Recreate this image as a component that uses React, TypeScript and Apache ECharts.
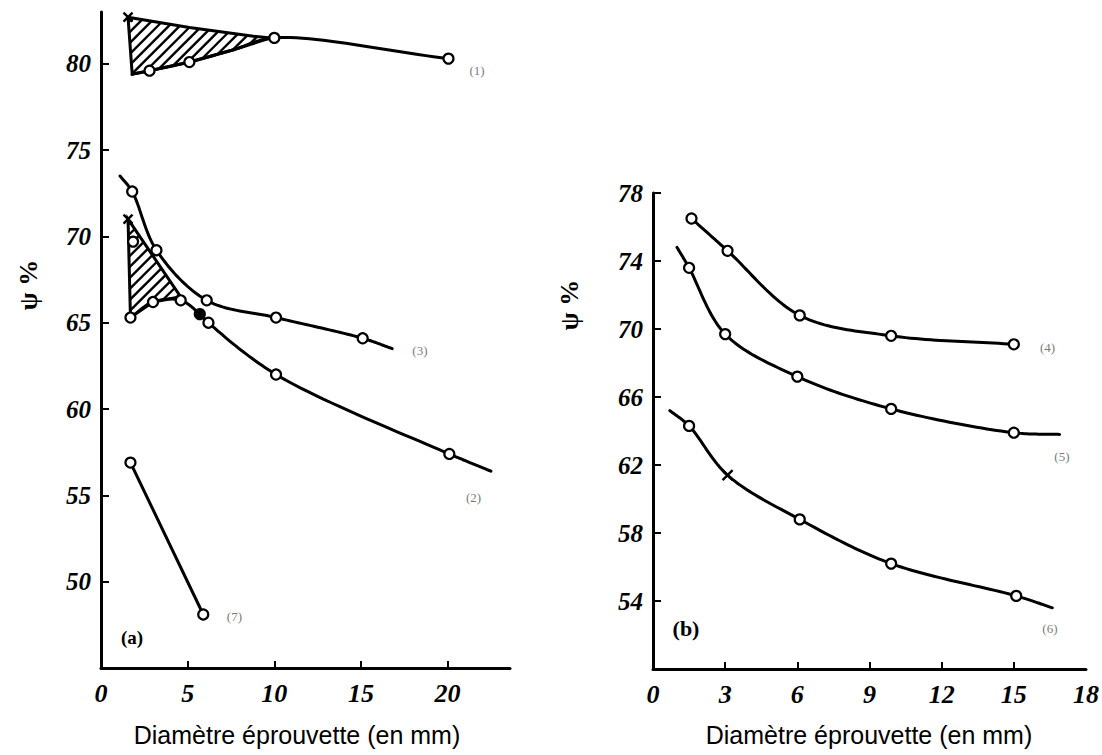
import React, { useEffect, useRef } from "react";
import * as echarts from "echarts";

// ---------- Panel (a) data ----------
const aXTicks = [0, 5, 10, 15, 20];
const aYTicks = [50, 55, 60, 65, 70, 75, 80];
// [x, y, marker]  marker: "o" circle, "-" none, "f" filled dot, "x" cross
const curve1: [number, number, string][] = [
  [1.8, 79.4, "-"], [2.8, 79.6, "o"], [5.1, 80.1, "o"], [7.6, 80.8, "-"], [10.0, 81.5, "o"], [20.05, 80.3, "o"],
];
const curve2: [number, number, string][] = [
  [1.7, 65.3, "o"], [3.0, 66.2, "o"], [4.6, 66.3, "o"], [5.7, 65.5, "f"], [6.2, 65.0, "o"], [10.1, 62.0, "o"], [20.1, 57.4, "o"], [22.5, 56.4, "-"],
];
const curve3: [number, number, string][] = [
  [1.1, 73.5, "-"], [1.8, 72.6, "o"], [3.2, 69.2, "o"], [6.1, 66.3, "o"], [10.1, 65.3, "o"], [15.1, 64.1, "o"], [16.8, 63.5, "-"],
];
const curve7: [number, number, string][] = [[1.7, 56.9, "o"], [5.9, 48.1, "o"]];
const hatchA1: [number, number][] = [
  [1.56, 82.7], [5.1, 82.1], [8.8, 81.6], [9.8, 81.5], [7.6, 80.8], [5.1, 80.1], [2.8, 79.6], [1.8, 79.4],
];
const hatchA2: [number, number][] = [[1.56, 71.0], [4.6, 66.5], [3.0, 66.2], [1.7, 65.3]];
const aCrosses: [number, number][] = [[1.56, 82.7], [1.56, 71.0]];
const aExtraCircles: [number, number][] = [[1.85, 69.7]];
const aCurveLabels: { name: string; pos: [number, number] }[] = [
  { name: "(1)", pos: [21.7, 79.6] },
  { name: "(3)", pos: [18.4, 63.4] },
  { name: "(2)", pos: [21.5, 54.9] },
  { name: "(7)", pos: [7.7, 48.0] },
];

// ---------- Panel (b) data ----------
const bXTicks = [0, 3, 6, 9, 12, 15, 18];
const bYTicks = [54, 58, 62, 66, 70, 74, 78];
const curve4: [number, number, string][] = [
  [1.6, 76.5, "o"], [3.1, 74.6, "o"], [6.1, 70.8, "o"], [9.9, 69.6, "o"], [15.0, 69.1, "o"],
];
const curve5: [number, number, string][] = [
  [1.0, 74.8, "-"], [1.5, 73.6, "o"], [3.0, 69.7, "o"], [6.0, 67.2, "o"], [9.9, 65.3, "o"], [15.0, 63.9, "o"], [16.9, 63.8, "-"],
];
const curve6: [number, number, string][] = [
  [0.7, 65.2, "-"], [1.5, 64.3, "o"], [3.1, 61.4, "x"], [6.1, 58.8, "o"], [9.9, 56.2, "o"], [15.1, 54.3, "o"], [16.6, 53.6, "-"],
];
const bCurveLabels: { name: string; pos: [number, number] }[] = [
  { name: "(4)", pos: [16.4, 68.9] },
  { name: "(5)", pos: [17.0, 62.5] },
  { name: "(6)", pos: [16.5, 52.4] },
];

const xTitle = "Diamètre éprouvette (en mm)";
const yTitle = "ψ %";

const CROSS = "path://M0,0L10,10M10,0L0,10";

// centripetal Catmull-Rom through pixel points
function spline(p: number[][]): number[][] {
  if (p.length < 3) return p;
  const n = p.length;
  const ext = [
    [2 * p[0][0] - p[1][0], 2 * p[0][1] - p[1][1]],
    ...p,
    [2 * p[n - 1][0] - p[n - 2][0], 2 * p[n - 1][1] - p[n - 2][1]],
  ];
  const out: number[][] = [];
  const tj = (ti: number, a: number[], b: number[]) =>
    ti + Math.pow(Math.hypot(b[0] - a[0], b[1] - a[1]), 0.5) + 1e-6;
  for (let i = 1; i < ext.length - 2; i++) {
    const P0 = ext[i - 1], P1 = ext[i], P2 = ext[i + 1], P3 = ext[i + 2];
    const t0 = 0;
    const t1 = tj(t0, P0, P1);
    const t2 = tj(t1, P1, P2);
    const t3 = tj(t2, P2, P3);
    const steps = 24;
    for (let s = 0; s <= steps; s++) {
      if (s === 0 && i > 1) continue;
      const t = t1 + ((t2 - t1) * s) / steps;
      const pt = [0, 1].map((k) => {
        const A1 = ((t1 - t) / (t1 - t0)) * P0[k] + ((t - t0) / (t1 - t0)) * P1[k];
        const A2 = ((t2 - t) / (t2 - t1)) * P1[k] + ((t - t1) / (t2 - t1)) * P2[k];
        const A3 = ((t3 - t) / (t3 - t2)) * P2[k] + ((t - t2) / (t3 - t2)) * P3[k];
        const B1 = ((t2 - t) / (t2 - t0)) * A1 + ((t - t0) / (t2 - t0)) * A2;
        const B2 = ((t3 - t) / (t3 - t1)) * A2 + ((t - t1) / (t3 - t1)) * A3;
        return ((t2 - t) / (t2 - t1)) * B1 + ((t - t1) / (t2 - t1)) * B2;
      });
      out.push(pt);
    }
  }
  return out;
}

function curveSeries(pts: [number, number, string][], gi: number) {
  return {
    type: "custom",
    xAxisIndex: gi,
    yAxisIndex: gi,
    data: pts.map((p) => [p[0], p[1]]),
    z: 3,
    renderItem: (params: any, api: any) => {
      if (params.dataIndex !== 0) return null;
      const px = pts.map((p) => api.coord([p[0], p[1]]) as number[]);
      return {
        type: "polyline",
        shape: { points: spline(px) },
        style: { fill: "none", stroke: "#000", lineWidth: 3, lineJoin: "round", lineCap: "round" },
      };
    },
  };
}

function markerSeries(pts: [number, number, string][], gi: number) {
  return {
    type: "scatter",
    xAxisIndex: gi,
    yAxisIndex: gi,
    symbol: "circle",
    symbolSize: 10,
    itemStyle: { color: "#fff", borderColor: "#000", borderWidth: 2.2, opacity: 1 },
    data: pts
      .filter((p) => p[2] !== "-")
      .map(([x, y, m]) => {
        if (m === "f") return { value: [x, y], itemStyle: { color: "#000", opacity: 1 } };
        if (m === "x")
          return {
            value: [x, y],
            symbol: CROSS,
            symbolSize: 10,
            itemStyle: { color: "#000", borderColor: "#000", borderWidth: 2.4, opacity: 1 },
          };
        return { value: [x, y] };
      }),
    z: 5,
  };
}

function hatchSeries(poly: [number, number][], gi: number) {
  return {
    type: "custom",
    xAxisIndex: gi,
    yAxisIndex: gi,
    data: [poly[0]],
    z: 2,
    renderItem: (_params: any, api: any) => {
      const pts = poly.map((p) => api.coord(p) as number[]);
      const sums = pts.map((p) => p[0] + p[1]);
      const minC = Math.min(...sums);
      const maxC = Math.max(...sums);
      const step = 11;
      const children: any[] = [];
      for (let c = minC + step / 2; c < maxC; c += step) {
        const hits: number[][] = [];
        for (let i = 0; i < pts.length; i++) {
          const a = pts[i];
          const b = pts[(i + 1) % pts.length];
          const fa = a[0] + a[1] - c;
          const fb = b[0] + b[1] - c;
          if ((fa < 0 && fb >= 0) || (fa >= 0 && fb < 0)) {
            const t = fa / (fa - fb);
            hits.push([a[0] + t * (b[0] - a[0]), a[1] + t * (b[1] - a[1])]);
          }
        }
        hits.sort((p, q) => p[0] - q[0]);
        for (let k = 0; k + 1 < hits.length; k += 2) {
          children.push({
            type: "line",
            shape: { x1: hits[k][0], y1: hits[k][1], x2: hits[k + 1][0], y2: hits[k + 1][1] },
            style: { stroke: "#000", lineWidth: 2.4 },
          });
        }
      }
      children.push({
        type: "polygon",
        shape: { points: pts },
        style: { fill: "none", stroke: "#000", lineWidth: 3 },
      });
      return { type: "group", children };
    },
  };
}

function labelSeries(items: { name: string; pos: [number, number] }[], gi: number) {
  return {
    type: "scatter",
    xAxisIndex: gi,
    yAxisIndex: gi,
    symbolSize: 1,
    itemStyle: { color: "rgba(0,0,0,0)" },
    data: items.map((d) => ({ name: d.name, value: d.pos })),
    label: {
      show: true,
      position: "inside",
      formatter: "{b}",
      fontFamily: "Liberation Serif",
      fontSize: 13,
      color: "#555",
      textBorderWidth: 0,
    },
    z: 4,
  };
}

const tickFont = {
  fontFamily: "Liberation Serif",
  fontStyle: "italic",
  fontWeight: "bold",
  color: "#000",
};

function xAxis(gi: number, max: number, labels: number[]) {
  return {
    type: "value",
    gridIndex: gi,
    min: 0,
    max,
    axisLine: { lineStyle: { color: "#000", width: 3 } },
    axisTick: {
      show: true,
      inside: true,
      length: 7,
      lineStyle: { color: "#000", width: 2 },
      customValues: labels.filter((v) => v > 0 && v < max),
    },
    axisLabel: { ...tickFont, fontSize: 26, margin: 12, customValues: labels },
    splitLine: { show: false },
  };
}

function yAxis(gi: number, min: number, max: number, labels: number[]) {
  return {
    type: "value",
    gridIndex: gi,
    min,
    max,
    axisLine: { lineStyle: { color: "#000", width: 3 } },
    axisTick: {
      show: true,
      inside: true,
      length: 8,
      lineStyle: { color: "#000", width: 2 },
      customValues: labels,
    },
    axisLabel: { ...tickFont, fontSize: 25, margin: 10, customValues: labels },
    splitLine: { show: false },
  };
}

export default function App() {
  const ref = useRef<HTMLDivElement>(null);
  useEffect(() => {
    if (!ref.current) return;
    const chart = echarts.init(ref.current, null, { renderer: "svg" });
    chart.setOption({
      animation: false,
      backgroundColor: "#fff",
      grid: [
        { left: 101, top: 12, width: 409, height: 656 },
        { left: 653, top: 193, width: 436, height: 476 },
      ],
      xAxis: [xAxis(0, 23.6, aXTicks), xAxis(1, 18, bXTicks)],
      yAxis: [yAxis(0, 45, 83, aYTicks), yAxis(1, 50, 78, bYTicks)],
      series: [
        hatchSeries(hatchA1, 0),
        hatchSeries(hatchA2, 0),
        curveSeries(curve1, 0),
        curveSeries(curve2, 0),
        curveSeries(curve3, 0),
        curveSeries(curve7, 0),
        markerSeries(curve1, 0),
        markerSeries(curve2, 0),
        markerSeries(curve3, 0),
        markerSeries(curve7, 0),
        {
          type: "scatter",
          xAxisIndex: 0,
          yAxisIndex: 0,
          symbol: CROSS,
          symbolSize: 9,
          itemStyle: { color: "#000", borderColor: "#000", borderWidth: 2.4, opacity: 1 },
          data: aCrosses,
          z: 5,
        },
        {
          type: "scatter",
          xAxisIndex: 0,
          yAxisIndex: 0,
          symbol: "circle",
          symbolSize: 10,
          itemStyle: { color: "#fff", borderColor: "#000", borderWidth: 2.2, opacity: 1 },
          data: aExtraCircles,
          z: 5,
        },
        labelSeries(aCurveLabels, 0),
        curveSeries(curve4, 1),
        curveSeries(curve5, 1),
        curveSeries(curve6, 1),
        markerSeries(curve4, 1),
        markerSeries(curve5, 1),
        markerSeries(curve6, 1),
        labelSeries(bCurveLabels, 1),
      ],
      graphic: [
        {
          type: "text",
          x: 297,
          y: 735,
          style: { text: xTitle, font: "25px 'Liberation Sans'", fill: "#000", align: "center", verticalAlign: "middle" },
        },
        {
          type: "text",
          x: 869,
          y: 735,
          style: { text: xTitle, font: "25px 'Liberation Sans'", fill: "#000", align: "center", verticalAlign: "middle" },
        },
        {
          type: "text",
          x: 28,
          y: 285,
          rotation: Math.PI / 2,
          style: { text: yTitle, font: "bold 26px 'Liberation Serif'", fill: "#000", align: "center", verticalAlign: "middle" },
        },
        {
          type: "text",
          x: 569,
          y: 305,
          rotation: Math.PI / 2,
          style: { text: yTitle, font: "bold 26px 'Liberation Serif'", fill: "#000", align: "center", verticalAlign: "middle" },
        },
        {
          type: "text",
          x: 132,
          y: 637,
          style: { text: "(a)", font: "bold 19px 'Liberation Serif'", fill: "#000", align: "center", verticalAlign: "middle" },
        },
        {
          type: "text",
          x: 686,
          y: 628,
          style: { text: "(b)", font: "bold 22px 'Liberation Serif'", fill: "#000", align: "center", verticalAlign: "middle" },
        },
      ],
    });
    return () => chart.dispose();
  }, []);
  return (
    <div
      ref={ref}
      style={{ position: "fixed", left: 0, top: 0, width: 1102, height: 755, background: "#fff" }}
    />
  );
}
